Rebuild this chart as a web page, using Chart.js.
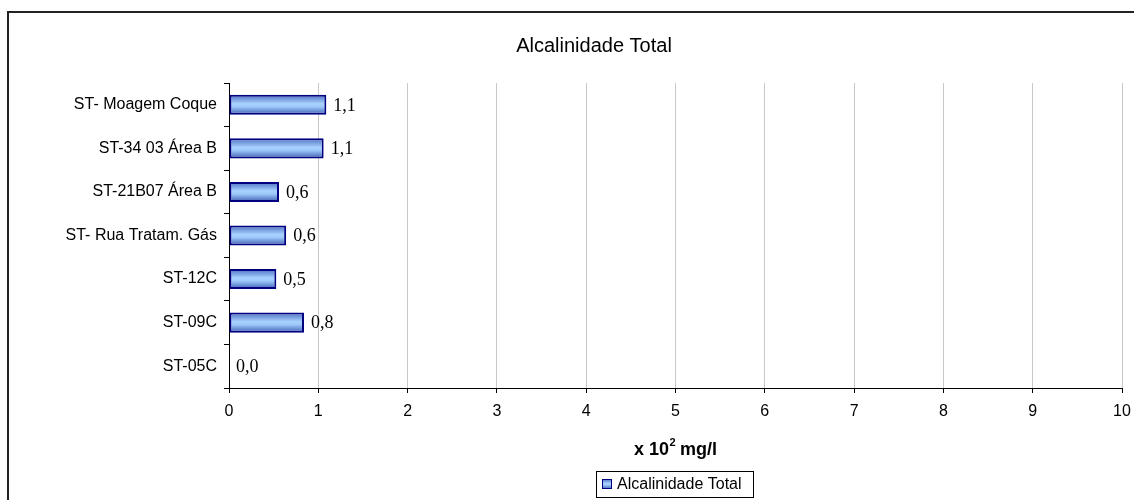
<!DOCTYPE html>
<html>
<head>
<meta charset="utf-8">
<script src="https://cdn.jsdelivr.net/npm/chart.js@4/dist/chart.umd.min.js"></script>
<style>
    html, body { margin: 0; padding: 0; background: #fff; overflow: hidden; }
    #wrap { position: relative; width: 1134px; height: 500px; }
</style>
</head>
<body>
<div id="wrap"><canvas id="chart" width="1134" height="500"></canvas></div>
<script>
const stations = ["ST- Moagem Coque", "ST-34 03 Área B", "ST-21B07 Área B", "ST- Rua Tratam. Gás", "ST-12C", "ST-09C", "ST-05C"]
const alkalinity = [1.09, 1.06, 0.56, 0.64, 0.53, 0.84, 0.0]
const xTicks = [0, 1, 2, 3, 4, 5, 6, 7, 8, 9, 10]
const chartTitle = "Alcalinidade Total"
const seriesName = "Alcalinidade Total"

const sans = "Arial, 'Liberation Sans', sans-serif"
const serif = "'Times New Roman', 'Liberation Serif', serif"
const barPct = 0.46

function barGradient(ctx, top, bottom) {
    const g = ctx.createLinearGradient(0, top, 0, bottom)
    g.addColorStop(0, "#4a6cc0")
    g.addColorStop(0.45, "#a8d2ff")
    g.addColorStop(0.6, "#9cc8fa")
    g.addColorStop(1, "#3c5cb0")
    return g
}

// outer frame, title, axis title, legend and value labels
const decorations = {
    id: "decorations",
    beforeDraw(chart) {
        const ctx = chart.ctx
        ctx.save()
        ctx.strokeStyle = "#222"
        ctx.lineWidth = 2
        ctx.strokeRect(8, 12, 1300, 700)
        ctx.restore()
    },
    afterDraw(chart) {
        const ctx = chart.ctx
        const area = chart.chartArea
        ctx.save()
        ctx.fillStyle = "#000"
        ctx.textBaseline = "alphabetic"

        // title
        ctx.font = "20px " + sans
        ctx.textAlign = "center"
        ctx.fillText(chartTitle, 594, 52)

        // axis title x 10^2 mg/l
        const cx = (area.left + area.right) / 2
        ctx.font = "bold 18px " + sans
        const p1 = "x 10", p2 = " mg/l"
        const w1 = ctx.measureText(p1).width
        const w3 = ctx.measureText(p2).width
        ctx.font = "bold 11px " + sans
        const w2 = ctx.measureText("2").width
        let x = cx - (w1 + w2 + w3) / 2
        ctx.textAlign = "left"
        ctx.font = "bold 18px " + sans
        ctx.fillText(p1, x, 455)
        ctx.font = "bold 11px " + sans
        ctx.fillText("2", x + w1 + 0.5, 446)
        ctx.font = "bold 18px " + sans
        ctx.fillText(p2, x + w1 + w2, 455)

        // legend
        ctx.lineWidth = 1
        ctx.strokeStyle = "#000"
        ctx.strokeRect(596.5, 471.5, 157, 26)
        ctx.fillStyle = barGradient(ctx, 479, 489)
        ctx.fillRect(602, 479, 10, 10)
        ctx.strokeStyle = "#000080"
        ctx.strokeRect(602.5, 479.5, 9, 9)
        ctx.fillStyle = "#000"
        ctx.font = "16px " + sans
        ctx.textBaseline = "middle"
        ctx.fillText(seriesName, 617, 485)

        // value labels
        const meta = chart.getDatasetMeta(0)
        ctx.font = "18px " + serif
        meta.data.forEach((bar, i) => {
            const label = alkalinity[i].toFixed(1).replace(".", ",")
            ctx.fillText(label, bar.x + 7, bar.y + 1)
        })
        ctx.restore()
    }
}

const ctx = document.getElementById("chart").getContext("2d")
new Chart(ctx, {
    type: "bar",
    data: {
        labels: stations,
        datasets: [{
            label: seriesName,
            data: alkalinity,
            backgroundColor: (c) => {
                const ys = c.chart.scales.y
                if (!ys || c.dataIndex === undefined) return "#a8d2ff"
                const y = ys.getPixelForValue(c.dataIndex)
                const h = (ys.bottom - ys.top) / stations.length * barPct
                if (!isFinite(y) || !isFinite(h) || h <= 0) return "#a8d2ff"
                return barGradient(c.chart.ctx, y - h / 2, y + h / 2)
            },
            borderColor: "#000080",
            borderWidth: 2,
            borderSkipped: false,
            categoryPercentage: 1,
            barPercentage: barPct
        }]
    },
    options: {
        indexAxis: "y",
        responsive: false,
        animation: false,
        events: [],
        layout: { padding: { left: 0, right: 12, top: 83, bottom: 0 } },
        plugins: {
            legend: { display: false },
            title: { display: false },
            tooltip: { enabled: false }
        },
        scales: {
            x: {
                min: 0,
                max: 10,
                afterFit: (scale) => {
                    scale.height = 112
                    scale.paddingRight = 0
                    scale.paddingLeft = 0
                },
                afterBuildTicks: (scale) => { scale.ticks = xTicks.map(v => ({ value: v })) },
                grid: {
                    color: (c) => c.tick && c.tick.value === 0 ? "rgba(0,0,0,0)" : "#c8c8c8",
                    tickColor: "#000",
                    tickLength: 5,
                    lineWidth: 1
                },
                border: { color: "#000", width: 1 },
                ticks: {
                    color: "#000",
                    padding: 9,
                    font: { family: sans, size: 16 },
                    callback: (v) => String(v)
                }
            },
            y: {
                afterFit: (scale) => {
                    scale.width = 229
                    scale.paddingTop = 0
                    scale.paddingBottom = 0
                },
                grid: {
                    drawOnChartArea: false,
                    color: "#000",
                    tickLength: 5
                },
                border: { color: "#000", width: 1 },
                ticks: {
                    color: "#000",
                    padding: 7,
                    font: { family: sans, size: 16 }
                }
            }
        }
    },
    plugins: [decorations]
})
</script>
</body>
</html>
